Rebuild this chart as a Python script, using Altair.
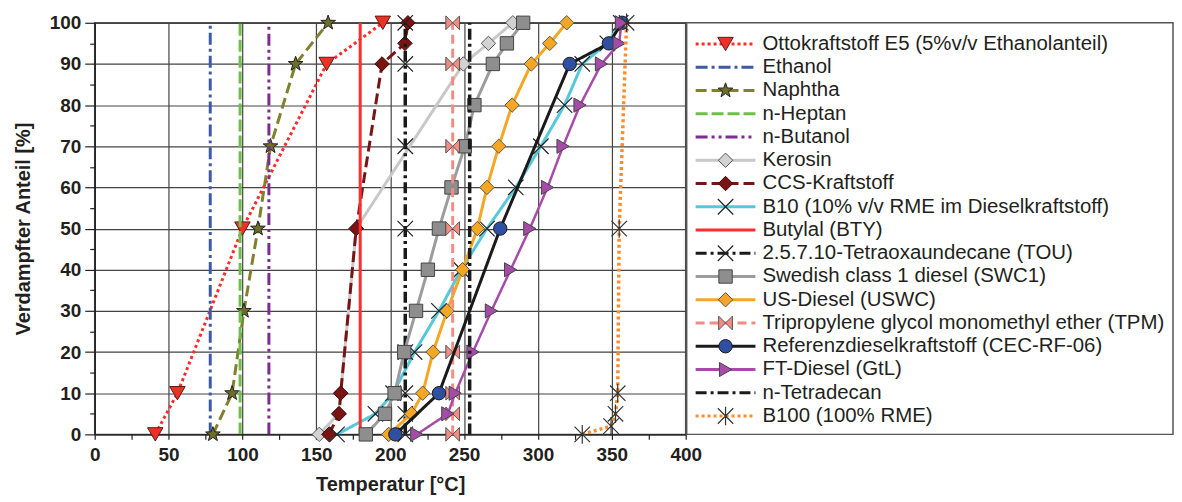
import altair as alt
import pandas as pd

# ---------------- data ----------------
names = [
    "Ottokraftstoff E5 (5%v/v Ethanolanteil)",
    "Ethanol",
    "Naphtha",
    "n-Heptan",
    "n-Butanol",
    "Kerosin",
    "CCS-Kraftstoff",
    "B10 (10% v/v RME im Dieselkraftstoff)",
    "Butylal (BTY)",
    "2.5.7.10-Tetraoxaundecane (TOU)",
    "Swedish class 1 diesel (SWC1)",
    "US-Diesel (USWC)",
    "Tripropylene glycol monomethyl ether (TPM)",
    "Referenzdieselkraftstoff (CEC-RF-06)",
    "FT-Diesel (GtL)",
    "n-Tetradecan",
    "B100 (100% RME)",
]

otto_t = [41, 56, 100, 157, 195]
otto_p = [0, 10, 50, 90, 100]

ethanol_t = [78.2, 78.2]
ethanol_p = [0, 100]

naphtha_t = [80, 93, 101, 110.5, 119, 136, 158]
naphtha_p = [0, 10, 30, 50, 70, 90, 100]

heptan_t = [98.4, 98.4]
heptan_p = [0, 100]

butanol_t = [117.9, 117.9]
butanol_p = [0, 100]

kerosin_t = [152, 165, 166.5, 177, 249.5, 266.5, 283]
kerosin_p = [0, 5, 10, 50, 90, 95, 100]

ccs_t = [158.5, 165.5, 166.5, 177, 194.5, 210, 212]
ccs_p = [0, 5, 10, 50, 90, 95, 100]

b10_t = [164, 190, 202, 216.5, 233, 248, 265.5, 285, 302, 318, 330, 347, 356]
b10_p = [0, 5, 10, 20, 30, 40, 50, 60, 70, 80, 90, 95, 100]

butylal_t = [179.7, 179.7]
butylal_p = [0, 100]

tou_t = [210.2, 210.2]
tou_p = [0, 100]
tou_mark_t = [210.2, 210.2, 210.2, 210.2, 210.2, 210.2, 210.2, 210.2]
tou_mark_p = [0, 5, 10, 20, 50, 70, 90, 100]

swc1_t = [183.5, 196.5, 203, 209.5, 217.5, 225.5, 233, 241.5, 250.5, 257, 269.5, 279, 290]
swc1_p = [0, 5, 10, 20, 30, 40, 50, 60, 70, 80, 90, 95, 100]

usd_t = [199, 214.5, 222, 229, 238.5, 249, 259, 265.5, 273.5, 282.5, 295.5, 308, 319.5]
usd_p = [0, 5, 10, 20, 30, 40, 50, 60, 70, 80, 90, 95, 100]

tpm_t = [242.3, 242.3]
tpm_p = [0, 100]
tpm_mark_t = [242.3, 242.3, 242.3, 242.3, 242.3, 242.3, 242.3, 242.3]
tpm_mark_p = [0, 5, 10, 20, 50, 70, 90, 100]

ref_t = [203.5, 233, 274.5, 321.5, 348, 357]
ref_p = [0, 10, 50, 90, 95, 100]

ft_t = [218, 239, 244, 256, 268.5, 281.5, 294.5, 306.5, 317, 328.5, 343, 355, 356.5]
ft_p = [0, 5, 10, 20, 30, 40, 50, 60, 70, 80, 90, 95, 100]

tetra_t = [253.8, 253.8]
tetra_p = [0, 100]

b100_t = [330, 349.5, 352.5, 354, 355, 360]
b100_p = [0, 2, 5, 10, 50, 100]

line_data = [
    (otto_t, otto_p), (ethanol_t, ethanol_p), (naphtha_t, naphtha_p),
    (heptan_t, heptan_p), (butanol_t, butanol_p), (kerosin_t, kerosin_p),
    (ccs_t, ccs_p), (b10_t, b10_p), (butylal_t, butylal_p), (tou_t, tou_p),
    (swc1_t, swc1_p), (usd_t, usd_p), (tpm_t, tpm_p), (ref_t, ref_p),
    (ft_t, ft_p), (tetra_t, tetra_p), (b100_t, b100_p),
]
mark_data = [
    (otto_t, otto_p), None, (naphtha_t, naphtha_p), None, None,
    (kerosin_t, kerosin_p), (ccs_t, ccs_p), (b10_t, b10_p), None,
    (tou_mark_t, tou_mark_p), (swc1_t, swc1_p), (usd_t, usd_p),
    (tpm_mark_t, tpm_mark_p), (ref_t, ref_p), (ft_t, ft_p), None,
    (b100_t, b100_p),
]

# ---------------- styles ----------------
STAR = ("M0,-1L0.235,-0.324L0.951,-0.309L0.38,0.124L0.588,0.809L0,0.4"
        "L-0.588,0.809L-0.38,0.124L-0.951,-0.309L-0.235,-0.324Z")
XMARK = "M-1,-1L1,1M-1,1L1,-1"
ASTER = "M-1,-1L1,1M-1,1L1,-1M0,-1.2L0,1.2"
BOWTIE = "M-1,-1L0,0L-1,1ZM1,-1L0,0L1,1Z"

DASH_DOT = [11, 4, 3, 4]
styles = [
    dict(color="#FF2A2A", dash=[3, 3], width=3, shape="triangle-down", fill="#EE3124", stroke="#5a1a1a", size=240),
    dict(color="#3B5BA9", dash=[12, 4, 3, 4], width=3),
    dict(color="#80802F", dash=[11, 5], width=3, shape=STAR, fill="#6E6E2A", stroke="#222", size=240),
    dict(color="#6CC04A", dash=[12, 4], width=3),
    dict(color="#7E2B90", dash=[12, 4, 3, 4, 3, 4], width=3),
    dict(color="#C8C8C8", dash=[1, 0], width=3, shape="diamond", fill="#D2D2D2", stroke="#555", size=210),
    dict(color="#7A1414", dash=[11, 5], width=3, shape="diamond", fill="#7A1414", stroke="#3a0a0a", size=210),
    dict(color="#55C8DC", dash=[1, 0], width=3, shape=XMARK, fill="#000", stroke="#222", size=240, x=True),
    dict(color="#FF2E2E", dash=[1, 0], width=3),
    dict(color="#1A1A1A", dash=DASH_DOT, width=3.5, shape=XMARK, fill="#000", stroke="#222", size=240, x=True),
    dict(color="#9C9C9C", dash=[1, 0], width=3, shape="square", fill="#8E8E8E", stroke="#444", size=180),
    dict(color="#F5A623", dash=[1, 0], width=3, shape="diamond", fill="#F5A623", stroke="#555", size=210),
    dict(color="#F58C84", dash=[9, 5], width=3, shape=BOWTIE, fill="#F58C84", stroke="#555", size=190),
    dict(color="#1A1A1A", dash=[1, 0], width=3, shape="circle", fill="#2F4FA0", stroke="#1a1a1a", size=180),
    dict(color="#A64CA8", dash=[1, 0], width=2.5, shape="triangle-right", fill="#A64CA8", stroke="#444", size=200),
    dict(color="#1A1A1A", dash=DASH_DOT, width=3.5),
    dict(color="#FF8C28", dash=[3, 3], width=3.5, shape=ASTER, fill="#000", stroke="#333", size=240, x=True),
]

FONT = "Liberation Sans"
W, H = 593, 413

xenc = alt.X(
    "t:Q",
    scale=alt.Scale(domain=[0, 400], nice=False, zero=False),
    axis=alt.Axis(
        title="Temperatur [°C]",
        values=list(range(0, 401, 25)),
        labelExpr="datum.value % 50 === 0 ? datum.label : ''",
        gridOpacity={"condition": {"test": "datum.value % 50 === 0", "value": 1}, "value": 0},
        tickSize=5,
        labelPadding=6,
        titlePadding=10,
        labelFlush=False,
        labelOverlap=False,
    ),
)
yenc = alt.Y(
    "p:Q",
    scale=alt.Scale(domain=[0, 100], nice=False, zero=False),
    axis=alt.Axis(
        title="Verdampfter Anteil [%]",
        values=list(range(0, 101, 5)),
        labelExpr="datum.value % 10 === 0 ? datum.label : ''",
        gridOpacity={"condition": {"test": "datum.value % 10 === 0", "value": 1}, "value": 0},
        tickSize={"condition": {"test": "datum.value % 10 === 0", "value": 10}, "value": 5},
        labelPadding=4,
        titlePadding=16,
        labelFlush=False,
        labelOverlap=False,
    ),
)

layers = []
for i, (nm, st) in enumerate(zip(names, styles)):
    t, p = line_data[i]
    df = pd.DataFrame({"t": t, "p": p})
    layers.append(
        alt.Chart(df).mark_line(
            color=st["color"], strokeDash=st["dash"], strokeWidth=st["width"], clip=True
        ).encode(x=xenc, y=yenc, order=alt.Order("p:Q"))
    )
    if mark_data[i] is not None:
        mt, mp = mark_data[i]
        mdf = pd.DataFrame({"t": mt, "p": mp})
        if st.get("x"):
            mk = alt.Chart(mdf).mark_point(
                shape=st["shape"], filled=False, stroke=st["stroke"], strokeWidth=1.2,
                size=st["size"], opacity=1,
            )
        else:
            mk = alt.Chart(mdf).mark_point(
                shape=st["shape"], filled=True, fill=st["fill"], stroke=st["stroke"],
                strokeWidth=1, size=st["size"], opacity=1,
            )
        layers.append(mk.encode(x=xenc, y=yenc))

main = alt.layer(*layers).properties(width=W, height=H)

# ---------------- legend panel ----------------
LW = 488
leg_df = pd.DataFrame({"name": names, "row": list(range(len(names)))})
ly = alt.Y("row:Q", scale=alt.Scale(domain=[-0.913, 16.79], reverse=True, nice=False, zero=False), axis=None)
dom = names
leg_rule = alt.Chart(leg_df).mark_rule().encode(
    x=alt.value(9), x2=alt.value(69), y=ly,
    color=alt.Color("name:N", scale=alt.Scale(domain=dom, range=[s["color"] for s in styles]), legend=None),
    strokeDash=alt.StrokeDash("name:N", scale=alt.Scale(domain=dom, range=[s["dash"] for s in styles]), legend=None),
    strokeWidth=alt.StrokeWidth("name:N", scale=alt.Scale(domain=dom, range=[s["width"] for s in styles]), legend=None),
)
leg_layers = [leg_rule]
for i, st in enumerate(styles):
    if "shape" not in st:
        continue
    one = pd.DataFrame({"name": [names[i]], "row": [i]})
    if st.get("x"):
        pm = alt.Chart(one).mark_point(shape=st["shape"], filled=False, stroke=st["stroke"],
                                       strokeWidth=1.2, size=st["size"], opacity=1)
    else:
        pm = alt.Chart(one).mark_point(shape=st["shape"], filled=True, fill=st["fill"],
                                       stroke=st["stroke"], strokeWidth=1, size=st["size"], opacity=1)
    leg_layers.append(pm.encode(x=alt.value(39), y=ly))
leg_text = alt.Chart(leg_df).mark_text(
    align="left", baseline="middle", font=FONT, fontSize=20.5, color="#231F20", dx=0
).encode(x=alt.value(76), y=ly, text="name:N")
leg_layers.append(leg_text)
legend = alt.layer(*leg_layers).properties(width=LW, height=H)

chart = alt.hconcat(main, legend, spacing=1, bounds="flush").properties(
    padding={"left": 4, "top": 1, "right": 0, "bottom": 0}
).configure_view(
    stroke="#555", strokeWidth=1.5
).configure_axis(
    labelFont=FONT, labelFontSize=19, labelFontWeight="bold", labelColor="#231F20",
    titleFont=FONT, titleFontSize=20, titleFontWeight="bold", titleColor="#231F20",
    gridColor="#444", gridWidth=1.2, domainColor="#222", domainWidth=1.5,
    tickColor="#222", tickWidth=1.2,
)

chart.save("out.html", embed_options={"renderer": "svg", "actions": False})
